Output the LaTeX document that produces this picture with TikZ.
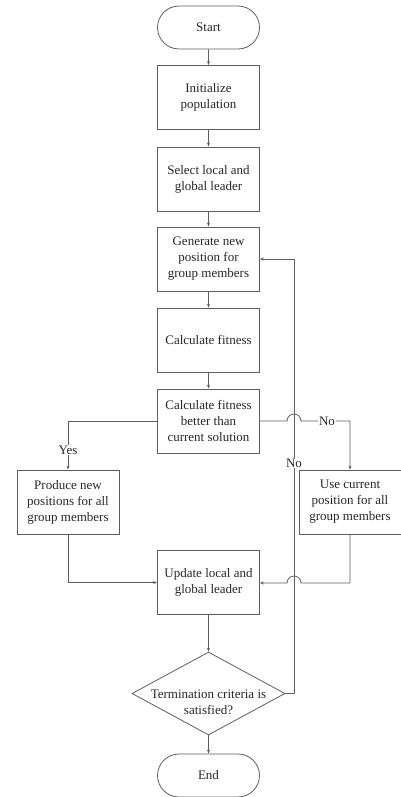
\documentclass[tikz,border=0pt]{standalone}
\usepackage{fontspec}
\setmainfont{Liberation Serif}
\usetikzlibrary{shapes.misc,shapes.geometric,arrows.meta}
\definecolor{linegray}{HTML}{5E5E5E}
\tikzset{
  every node/.style={font=\fontsize{13}{16}\selectfont, text=black!85},
  base/.style={draw=linegray, line width=0.8pt, align=center, inner sep=0pt},
  procbox/.style={base, rectangle, minimum width=102pt, minimum height=64pt},
  termbox/.style={base, rounded rectangle, minimum width=102pt, minimum height=43pt},
  decbox/.style={base, diamond, minimum width=153pt, minimum height=83pt},
  conn/.style={draw=linegray, line width=0.8pt},
  arr/.style={conn, -{Stealth[length=4pt,width=3pt]}},
  tag/.style={fill=white, inner sep=1pt}
}
\begin{document}
\begin{tikzpicture}[x=1pt,y=-1pt]
  \useasboundingbox (0,0) rectangle (401,797);

  % main column
  \node[termbox] (start)   at (208.5,27.5)  {Start};
  \node[procbox] (init)    at (208.5,97.5)  {Initialize\\population};
  \node[procbox] (select)  at (208.5,179)   {Select local and\\global leader};
  \node[procbox] (gen)     at (208.5,259)   {Generate new\\position for\\group members};
  \node[procbox] (fit)     at (208.5,340)   {Calculate fitness};
  \node[procbox] (better)  at (208.5,421)   {Calculate fitness\\better than\\current solution};
  \node[procbox] (produce) at (68,502)      {Produce new\\positions for all\\group members};
  \node[procbox] (use)     at (350,502)     {Use current\\position for all\\group members};
  \node[procbox] (update)  at (208.5,582.5) {Update local and\\global leader};
  \node[decbox]  (dec)     at (208.5,693.5) {};
  \node[align=center] (dectext) at (208.5,702) {Termination criteria is\\satisfied?};
  \node[termbox] (end)     at (208.5,775.5) {End};

  % straight flow
  \draw[arr] (start) -- (init);
  \draw[arr] (init) -- (select);
  \draw[arr] (select) -- (gen);
  \draw[arr] (gen) -- (fit);
  \draw[arr] (fit) -- (better);
  \draw[arr] (update) -- (dec);
  \draw[arr] (dec) -- (end);

  % loop-back line of the decision
  \coordinate (loopx) at (294,693.5);
  \draw[arr] (dec.east) -- (loopx) |- (gen.east);
  \node[tag] (nolow) at (294,463) {No};

  % yes branch
  \draw[arr] (better.west) -| (produce.north);
  \node[tag] (yes) at (68,450) {Yes};

  % no branch, hopping over the loop-back line
  \coordinate (hopA) at (287,421);
  \coordinate (noR) at (350,421);
  \draw[arr] (better.east) -- (hopA) arc (180:0:7pt) -- (noR) -- (use.north);
  \node[tag] (notop) at (327,421) {No};

  % merge into the update step
  \draw[arr] (produce.south) |- (update.west);
  \coordinate (hopB) at (301,583);
  \draw[arr] (use.south) |- (hopB) arc (0:180:7pt) -- (update.east |- hopB);
\end{tikzpicture}
\end{document}
